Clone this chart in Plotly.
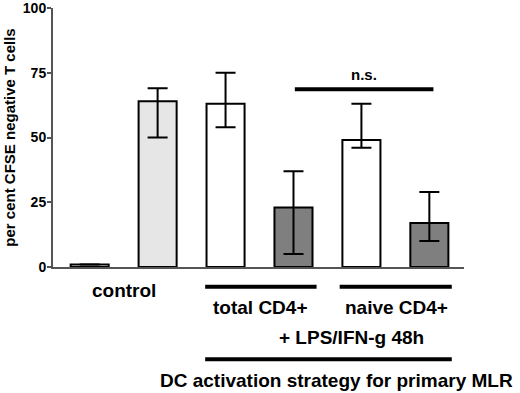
import plotly.graph_objects as go

categories = ["control_1", "control_2", "total_DC", "total_act", "naive_DC", "naive_act"]
values = [1, 64, 63, 23, 49, 17]
err_plus = [0, 5, 12, 14, 14, 12]
err_minus = [0, 14, 9, 18, 3, 7]
bar_colors = ["#ffffff", "#e6e6e6", "#ffffff", "#7f7f7f", "#ffffff", "#7f7f7f"]
y_ticks = [0, 25, 50, 75, 100]
ns_level = 68.6

FONT = "Liberation Sans, Arial, sans-serif"

fig = go.Figure()
fig.add_trace(go.Bar(
    x=list(range(len(categories))),
    y=values,
    marker=dict(color=bar_colors, line=dict(color="black", width=2)),
    error_y=dict(type="data", symmetric=False, array=err_plus, arrayminus=err_minus,
                 color="black", thickness=2, width=10, visible=True),
    width=0.56,
))

shapes = []
shapes.append(dict(type="line", xref="x", yref="y", x0=3.02, x1=5.06, y0=ns_level, y1=ns_level,
                   line=dict(color="black", width=4)))
shapes.append(dict(type="line", xref="x", yref="paper", x0=1.70, x1=3.34, y0=-0.076, y1=-0.076,
                   line=dict(color="black", width=4)))
shapes.append(dict(type="line", xref="x", yref="paper", x0=3.68, x1=5.33, y0=-0.076, y1=-0.076,
                   line=dict(color="black", width=4)))
shapes.append(dict(type="line", xref="x", yref="paper", x0=1.70, x1=5.33, y0=-0.356, y1=-0.356,
                   line=dict(color="black", width=4)))

annots = [
    dict(text="n.s.", x=4.04, y=74.5, xref="x", yref="y", font_size=15),
    dict(text="control", x=0.5, y=-0.089, xref="x", yref="paper", font_size=19),
    dict(text="total CD4+", x=2.52, y=-0.157, xref="x", yref="paper", font_size=19),
    dict(text="naive CD4+", x=4.52, y=-0.157, xref="x", yref="paper", font_size=19),
    dict(text="+ LPS/IFN-g 48h", x=3.86, y=-0.274, xref="x", yref="paper", font_size=19),
    dict(text="DC activation strategy for primary MLR", x=3.63, y=-0.44, xref="x", yref="paper", font_size=19),
]
annotations = []
for a in annots:
    fs = a.pop("font_size")
    annotations.append(dict(**a, showarrow=False, xanchor="center", yanchor="middle",
                            font=dict(family=FONT, size=fs, color="black", weight="bold")))

fig.update_layout(
    width=520, height=393,
    margin=dict(l=53, r=56, t=8, b=126, autoexpand=False),
    paper_bgcolor="white", plot_bgcolor="white",
    showlegend=False,
    shapes=shapes,
    annotations=annotations,
    font=dict(family=FONT, color="black"),
)
fig.update_xaxes(range=[-0.54, 5.51], showticklabels=False, ticks="", showgrid=False,
                 zeroline=False, showline=True, linecolor="#555555", linewidth=2,
                 automargin=False)
fig.update_yaxes(range=[0, 100], tickvals=y_ticks, ticks="outside", ticklen=4, tickwidth=2,
                 tickcolor="#555555", showgrid=False, zeroline=False, showline=True,
                 linecolor="#555555", linewidth=2, automargin=False,
                 ticklabeloverflow="allow", ticklabelstandoff=-2,
                 tickfont=dict(family=FONT, size=14, color="black", weight="bold"),
                 title=dict(text="per cent CFSE negative T cells", standoff=4,
                            font=dict(family=FONT, size=15, color="black", weight="bold")))
fig.write_html("out.html", config={"displayModeBar": False},
               post_script="document.body.style.margin='0px';document.body.style.overflow='hidden';")
